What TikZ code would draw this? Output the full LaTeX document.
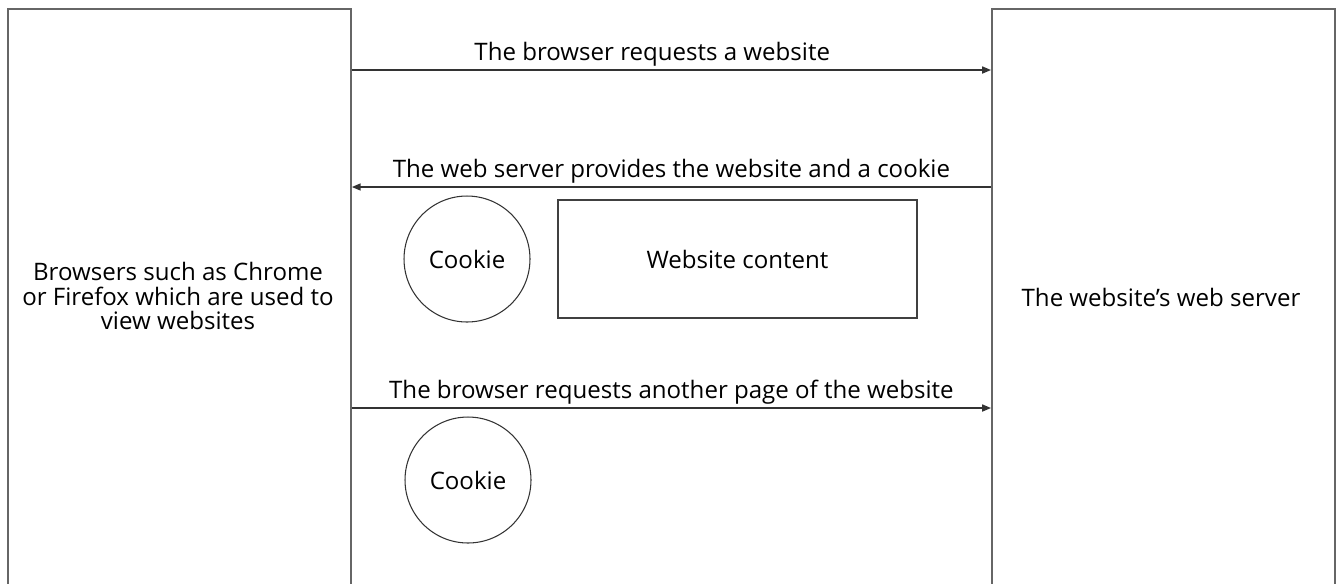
\documentclass[tikz,border=0pt]{standalone}
\usepackage{fontspec}
\setmainfont{Open Sans}
\usetikzlibrary{arrows.meta,positioning}

\begin{document}
\begin{tikzpicture}[x=0.02cm,y=-0.02cm,
  font=\fontsize{13.7pt}{14.2pt}\selectfont,
  side/.style = {draw=black!60, line width=1.1pt, anchor=north west, minimum width=6.86cm, minimum height=12.4cm},
  cookie/.style = {draw=black!80, line width=0.6pt, circle, minimum size=2.52cm, inner sep=0pt},
  content/.style = {draw=black!75, line width=0.7pt, minimum width=7.18cm, minimum height=2.36cm},
  msg/.style = {draw=black!80, line width=0.8pt, -{Triangle[length=5pt,width=4pt]}},
  lbl/.style = {above, inner sep=0pt, yshift=1.5pt}]
\useasboundingbox (0,0) rectangle (1336,583);
\node[side] (lbox) at (7,8) {};
\node[side] (rbox) at (991,8) {};
\node[align=center] (ltext) at (178,296) {Browsers such as Chrome\\or Firefox which are used to\\view websites};
\node (rtext) at (1161,297) {The website’s web server};
\node[cookie] (c1) at (467,259) {Cookie};
\node[content] (web) at (737.5,259) {Website content};
\node[cookie] (c2) at (468,480) {Cookie};
\draw[msg] (lbox.east |- 0,70) -- (rbox.west |- 0,70) node[lbl,pos=0.47] {The browser requests a website};
\draw[msg] (rbox.west |- 0,187) -- (lbox.east |- 0,187) node[lbl,midway] {The web server provides the website and a cookie};
\draw[msg] (lbox.east |- 0,408) -- (rbox.west |- 0,408) node[lbl,midway] {The browser requests another page of the website};
\end{tikzpicture}
\end{document}
